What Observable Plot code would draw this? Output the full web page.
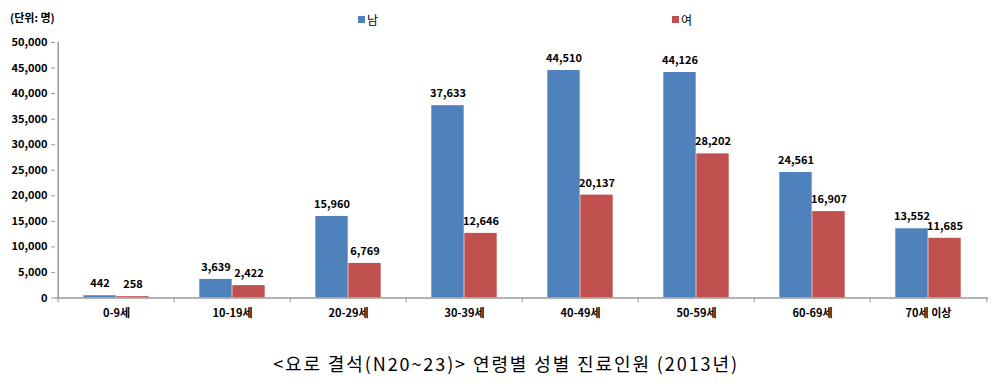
<!DOCTYPE html>
<html>
<head>
<meta charset="utf-8">
<script src="https://cdn.jsdelivr.net/npm/d3@7"></script>
<script src="https://cdn.jsdelivr.net/npm/@observablehq/plot@0.6"></script>
<style>
  body { margin: 0; background: #fff; }
  #wrap { position: relative; width: 995px; height: 390px; font-family: "Noto Sans CJK KR", "Noto Sans", sans-serif; }
  #unit { position: absolute; left: 10px; top: 9px; font-size: 11px; font-weight: bold; }
  .leg { position: absolute; top: 11px; font-size: 12px; display: flex; align-items: center; }
  .sw { width: 7px; height: 7px; margin-right: 2px; }
  #title { position: absolute; left: 0; width: 1012px; top: 350px; text-align: center; font-size: 18px; letter-spacing: 1.9px; }
</style>
</head>
<body>
<div id="wrap">
  <div id="chart"></div>
  <div id="unit">(단위: 명)</div>
  <div class="leg" style="left:358px"><span class="sw" style="background:#4F81BD"></span>남</div>
  <div class="leg" style="left:672px"><span class="sw" style="background:#C0504D"></span>여</div>
  <div id="title">&lt;요로 결석(N20~23)&gt; 연령별 성별 진료인원 (2013년)</div>
</div>
<script>
const ages = ["0-9세","10-19세","20-29세","30-39세","40-49세","50-59세","60-69세","70세 이상"];
const male = [442, 3639, 15960, 37633, 44510, 44126, 24561, 13552];
const female = [258, 2422, 6769, 12646, 20137, 28202, 16907, 11685];
const yTicks = [0, 5000, 10000, 15000, 20000, 25000, 30000, 35000, 40000, 45000, 50000];

const W = 995, H = 330, mL = 55, mR = 7, mT = 42, mB = 32.5;
const bw = (W - mL - mR) / ages.length;
const barW = 33;
const fmt = d3.format(",");
const maleData = ages.map((a, i) => ({age: a, value: male[i]}));
const femaleData = ages.map((a, i) => ({age: a, value: female[i]}));
const axisGray = "#9a9a9a";

const chart = Plot.plot({
  width: W, height: H,
  marginLeft: mL, marginRight: mR, marginTop: mT, marginBottom: mB,
  style: {fontFamily: "'Noto Sans CJK KR', 'Noto Sans', sans-serif", fontSize: "11px", background: "white"},
  x: {domain: ages, padding: 0, label: null},
  y: {domain: [0, 50000], label: null},
  marks: [
    Plot.barY(maleData, {x: "age", y: "value", fill: "#4F81BD", insetLeft: bw/2 - barW, insetRight: bw/2}),
    Plot.barY(femaleData, {x: "age", y: "value", fill: "#C0504D", insetLeft: bw/2, insetRight: bw/2 - barW}),
    Plot.text(maleData, {x: "age", y: "value", text: d => fmt(d.value), dx: -barW/2, dy: -12, fontWeight: "bold", fill: "#000"}),
    Plot.text(femaleData, {x: "age", y: "value", text: d => fmt(d.value), dx: barW/2, dy: -12, fontWeight: "bold", fill: "#000"}),
    Plot.ruleY([0], {stroke: axisGray, strokeWidth: 1.5}),
    Plot.ruleX([ages[0]], {dx: -bw/2, y1: 0, y2: 50000, stroke: axisGray, strokeWidth: 1.5}),
    Plot.axisY({ticks: yTicks, tickFormat: fmt, tickSize: 4, tickPadding: 4, stroke: axisGray, fill: "#000", fontWeight: "bold", label: null}),
    Plot.axisX({tickSize: 0, tickPadding: 11, fontWeight: "bold", fill: "#000", label: null}),
    Plot.axisX({tickSize: 5, dx: -bw/2, tickFormat: () => "", stroke: axisGray, label: null}),
    Plot.axisX({ticks: [ages[ages.length - 1]], tickSize: 5, dx: bw/2, tickFormat: () => "", stroke: axisGray, label: null})
  ]
});
document.getElementById("chart").appendChild(chart);
</script>
</body>
</html>
